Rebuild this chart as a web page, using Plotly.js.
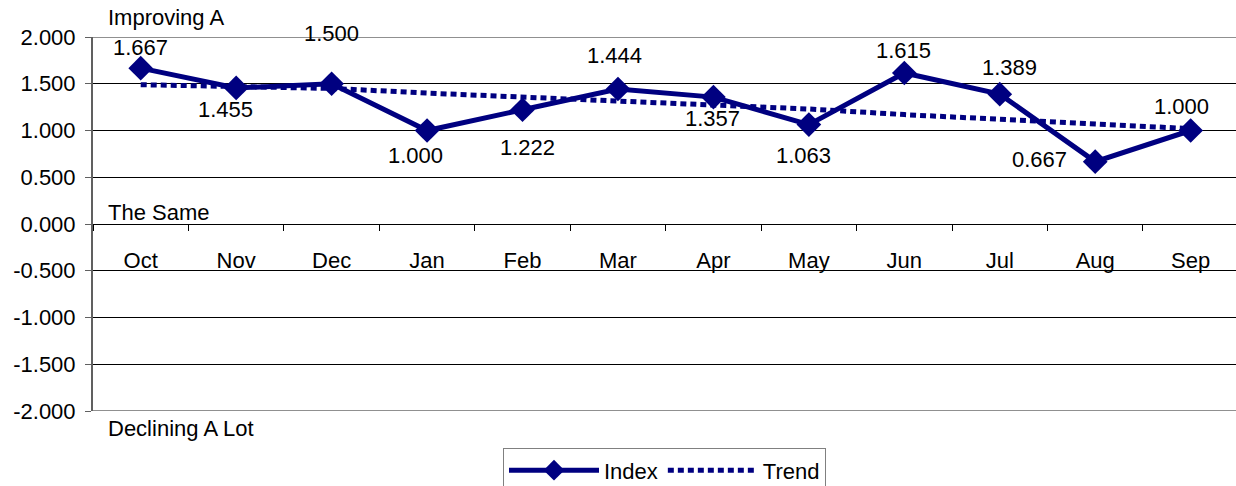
<!DOCTYPE html>
<html>
<head>
<meta charset="utf-8">
<script src="https://cdn.plot.ly/plotly-3.0.1.min.js"></script>
<style>html,body{margin:0;padding:0;background:#fff;overflow:hidden;}#chart{width:1236px;height:486px;}</style>
</head>
<body>
<div id="chart"></div>
<script>
const months = ["Oct","Nov","Dec","Jan","Feb","Mar","Apr","May","Jun","Jul","Aug","Sep"];
const indexValues = [1.667,1.455,1.500,1.000,1.222,1.444,1.357,1.063,1.615,1.389,0.667,1.000];
const trendValues = [1.49,1.47,1.45,1.40,1.36,1.32,1.28,1.23,1.17,1.12,1.07,1.02];
const yTicks = [-2,-1.5,-1,-0.5,0,0.5,1,1.5,2];

// label placement (pixel offsets from each point), style only
const labelDx = [0,-11,0,-12,5,-3,-1,-5,-1,10,-56,-9];
const labelDy = [21,-22,50,-25,-38,33,-21,-31,23,27,2,24];

const navy = "#000080";
const font = "Liberation Sans, Arial, sans-serif";
const fs = 22;

const traces = [
  {
    x: months, y: indexValues, name: "Index", type: "scatter", mode: "lines+markers",
    line: {color: navy, width: 5},
    marker: {symbol: "diamond", size: 19, color: navy},
    cliponaxis: false
  },
  {
    x: months, y: trendValues, name: "Trend", type: "scatter", mode: "lines",
    line: {color: navy, width: 5, dash: "6px,4px"}
  }
];

const labelAnns = months.map((m, i) => ({
  x: m, y: indexValues[i], xref: "x", yref: "y",
  text: indexValues[i].toFixed(3), showarrow: false,
  xshift: labelDx[i], yshift: labelDy[i], xanchor: "center", yanchor: "middle",
  font: {family: font, size: fs, color: "#000"}
}));

const layout = {
  width: 1236, height: 486,
  margin: {l: 93, r: 0, t: 37, b: 75, autoexpand: false},
  paper_bgcolor: "#fff", plot_bgcolor: "#fff",
  font: {family: font, size: fs, color: "#000"},
  showlegend: true,
  legend: {
    orientation: "h", x: 0.5, xanchor: "center", y: -0.1, yanchor: "top",
    bordercolor: "#808080", borderwidth: 1, font: {family: font, size: fs},
    itemwidth: 90, tracegroupgap: 0
  },
  xaxis: {
    type: "category", range: [-0.5, 11.475],
    anchor: "free", position: 0.5,
    showline: true, linecolor: "#000", linewidth: 1,
    ticks: "outside", ticklen: 6, tickcolor: "#000", tickson: "boundaries",
    ticklabelstandoff: 17,
    showgrid: false, zeroline: false, fixedrange: true,
    tickfont: {family: font, size: fs}
  },
  yaxis: {
    range: [-2, 2], tickvals: yTicks, ticktext: yTicks.map(v => v.toFixed(3)),
    showline: true, linecolor: "#606060", linewidth: 2,
    ticks: "outside", ticklen: 6, tickcolor: "#606060",
    ticklabelstandoff: 5,
    showgrid: true, gridcolor: "#000", gridwidth: 1, zeroline: false,
    tickfont: {family: font, size: fs}
  },
  shapes: [
    {type: "line", xref: "paper", yref: "y", x0: 0, x1: 1, y0: 2, y1: 2, line: {color: "#909090", width: 2}, layer: "below"},
    {type: "line", xref: "paper", yref: "y", x0: 0, x1: 1, y0: -2, y1: -2, line: {color: "#909090", width: 2}, layer: "below"}
  ],
  annotations: [
    {text: "Improving A", xref: "paper", yref: "y", x: 0.011, y: 2, xanchor: "left", yanchor: "middle", yshift: 20, showarrow: false, font: {family: font, size: fs}},
    {text: "The Same", xref: "paper", yref: "y", x: 0.011, y: 0, xanchor: "left", yanchor: "middle", yshift: 12, showarrow: false, font: {family: font, size: fs}},
    {text: "Declining A Lot", xref: "paper", yref: "y", x: 0.011, y: -2, xanchor: "left", yanchor: "middle", yshift: -17, showarrow: false, font: {family: font, size: fs}}
  ].concat(labelAnns)
};

Plotly.newPlot("chart", traces, layout, {displayModeBar: false, staticPlot: true});
</script>
</body>
</html>
